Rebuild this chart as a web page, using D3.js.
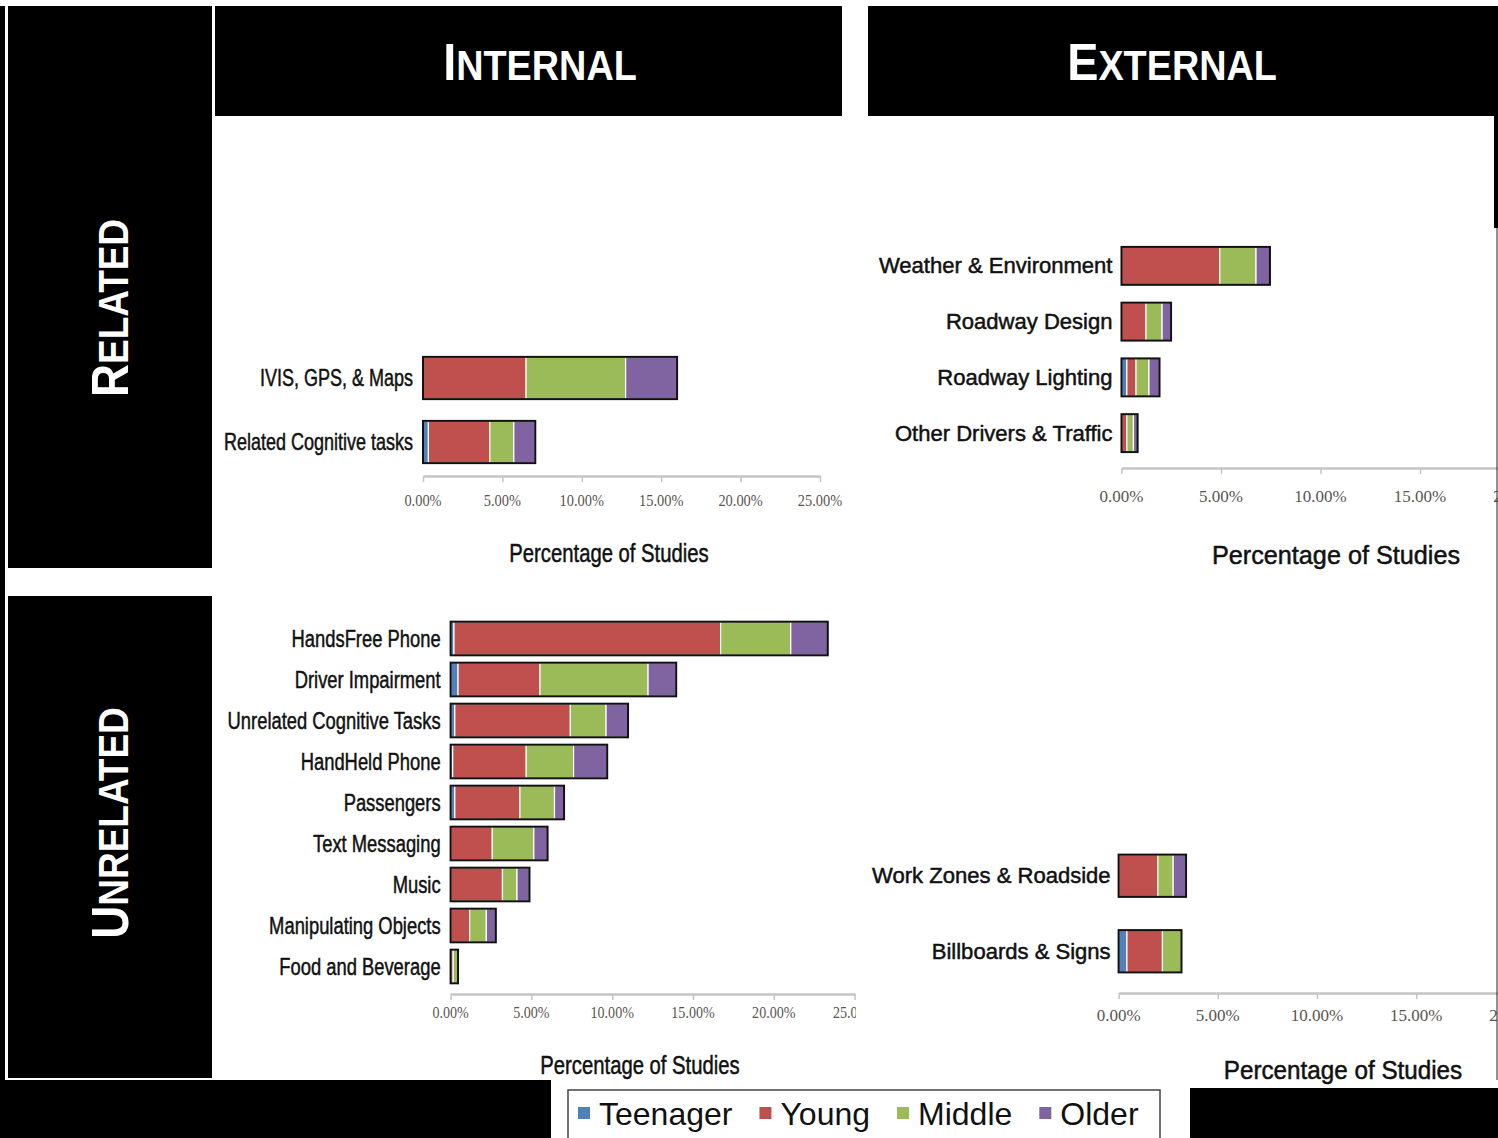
<!DOCTYPE html>
<html>
<head>
<meta charset="utf-8">
<script src="https://cdn.jsdelivr.net/npm/d3@7"></script>
<style>
body{margin:0;background:#fff;overflow:hidden}
svg{display:block}
</style>
</head>
<body>
<div id="chartDiv"></div>
<script>
//---age groups / legend---
var AgeGroups=["Teenager","Young","Middle","Older"]
var AgeColors=["#4F81BD","#C0504D","#9BBB59","#8064A2"]

//---internal + related---
var InternalRelatedCats=["IVIS, GPS, & Maps","Related Cognitive tasks"]
var InternalRelatedTeen=[0,0.34]
var InternalRelatedYoung=[6.49,3.87]
var InternalRelatedMiddle=[6.27,1.51]
var InternalRelatedOlder=[3.24,1.35]

//---external + related---
var ExternalRelatedCats=["Weather & Environment","Roadway Design","Roadway Lighting","Other Drivers & Traffic"]
var ExternalRelatedTeen=[0,0,0.27,0]
var ExternalRelatedYoung=[4.94,1.23,0.46,0.27]
var ExternalRelatedMiddle=[1.82,0.81,0.65,0.33]
var ExternalRelatedOlder=[0.70,0.45,0.53,0.21]

//---internal + unrelated---
var InternalUnrelatedCats=["HandsFree Phone","Driver Impairment","Unrelated Cognitive Tasks","HandHeld Phone","Passengers","Text Messaging","Music","Manipulating Objects","Food and Beverage"]
var InternalUnrelatedTeen=[0.21,0.46,0.26,0.13,0.26,0,0,0,0]
var InternalUnrelatedYoung=[16.5,5.07,7.15,4.55,4.03,2.58,3.21,1.18,0.16]
var InternalUnrelatedMiddle=[4.34,6.69,2.21,2.93,2.14,2.57,0.90,1.03,0.30]
var InternalUnrelatedOlder=[2.29,1.74,1.36,2.08,0.59,0.85,0.77,0.59,0]

//---external + unrelated---
var ExternalUnrelatedCats=["Work Zones & Roadside","Billboards & Signs"]
var ExternalUnrelatedTeen=[0,0.42]
var ExternalUnrelatedYoung=[1.98,1.79]
var ExternalUnrelatedMiddle=[0.77,0.96]
var ExternalUnrelatedOlder=[0.65,0]

//---axis ticks / titles---
var InternalTicks=[0,5,10,15,20,25]
var ExternalTicks=[0,5,10,15,20]
var AxisTitle="Percentage of Studies"
var ColumnTitles=["Internal","External"]
var RowTitles=["Related","Unrelated"]

var W=1498
var H=1138
var SansFont="'Liberation Sans',Arial,sans-serif"
var SerifFont="'Liberation Serif','Times New Roman',serif"
var TickFormat=d3.format(".2%")

var ChartSVG=d3.select("#chartDiv").append("svg")
  .attr("width",W).attr("height",H)
  .attr("viewBox","0 0 "+W+" "+H)

ChartSVG.append("rect")
  .attr("width",W).attr("height",H)
  .attr("fill","white")

var ClipDefs=ChartSVG.append("defs")

//---one stacked bar panel---
function drawPanel(p)
{
  var rows=p.cats.map(function(c,i){
    var r={cat:c}
    AgeGroups.forEach(function(k,j){ r[k]=p.series[j][i] })
    return r
  })
  var layers=d3.stack().keys(AgeGroups)(rows)

  var x=d3.scaleLinear().domain([0,p.max]).range([p.x0,p.x1])
  var y=d3.scaleBand().domain(p.cats)
    .range([p.top,p.bottom])
    .paddingInner(p.pad).paddingOuter(p.pad/2)

  var g=ChartSVG.append("g")
  if(p.clipRight)
  {
    ClipDefs.append("clipPath").attr("id",p.id+"Clip")
      .append("rect").attr("x",0).attr("y",0).attr("width",p.clipRight).attr("height",H)
    g.attr("clip-path","url(#"+p.id+"Clip)")
  }

  //---axis---
  var axis=g.append("g")
    .attr("transform","translate(0,"+p.axisY+")")
    .call(d3.axisBottom(x).tickValues(p.ticks).tickSize(6).tickSizeOuter(0).tickFormat(""))
  axis.select(".domain").attr("stroke","#C4C4C4").attr("stroke-width",2.5)
  axis.selectAll(".tick line").attr("stroke","#C4C4C4").attr("stroke-width",1.5)

  g.selectAll(".tickLabel").data(p.ticks).enter().append("g")
    .attr("class","tickLabel")
    .attr("transform",function(d){return "translate("+x(d)+","+p.tickY+") scale("+p.tickScale+",1)"})
    .append("text")
    .attr("text-anchor","middle")
    .attr("dominant-baseline","central")
    .attr("font-family",SerifFont)
    .attr("font-size",p.tickSize)
    .attr("fill","#5a5550")
    .text(function(d){return TickFormat(d/100)})

  //---segments---
  layers.forEach(function(layer,j){
    g.append("g").selectAll("rect")
      .data(layer.filter(function(d){return d[1]-d[0]>0}))
      .enter().append("rect")
      .attr("x",function(d){return x(d[0])})
      .attr("y",function(d){return y(d.data.cat)})
      .attr("width",function(d){return x(d[1])-x(d[0])})
      .attr("height",y.bandwidth())
      .attr("fill",AgeColors[j])
      .attr("stroke","white")
      .attr("stroke-width",1.2)
  })

  //---black outline round each bar---
  var last=layers[layers.length-1]
  g.append("g").selectAll("rect")
    .data(last)
    .enter().append("rect")
    .attr("x",x(0))
    .attr("y",function(d){return y(d.data.cat)})
    .attr("width",function(d){return x(d[1])-x(0)})
    .attr("height",y.bandwidth())
    .attr("fill","none")
    .attr("stroke","#111")
    .attr("stroke-width",2)

  //---category labels---
  g.selectAll(".catLabel").data(p.cats).enter().append("g")
    .attr("class","catLabel")
    .attr("transform",function(d){return "translate("+(x(0)-p.labelGap)+","+(y(d)+y.bandwidth()/2)+") scale("+p.labelScale+",1)"})
    .append("text")
    .attr("text-anchor","end")
    .attr("dominant-baseline","central")
    .attr("font-family",SansFont)
    .attr("font-size",p.labelSize)
    .attr("fill","#111")
    .attr("stroke","#111")
    .attr("stroke-width",0.5)
    .text(function(d){return d})

  //---axis title---
  g.append("g")
    .attr("transform","translate("+p.titleX+","+p.titleY+") scale("+p.titleScale+",1)")
    .append("text")
    .attr("text-anchor","middle")
    .attr("dominant-baseline","central")
    .attr("font-family",SansFont)
    .attr("font-size",p.titleSize)
    .attr("fill","#111")
    .attr("stroke","#111")
    .attr("stroke-width",0.5)
    .text(AxisTitle)
}

drawPanel({id:"ir",cats:InternalRelatedCats,
  series:[InternalRelatedTeen,InternalRelatedYoung,InternalRelatedMiddle,InternalRelatedOlder],
  max:25,ticks:InternalTicks,x0:423,x1:820,top:346,bottom:474,pad:0.34,
  axisY:476,tickY:500,tickSize:16,tickScale:0.9,
  labelGap:10,labelSize:24,labelScale:0.75,titleX:609,titleY:553,titleSize:26,titleScale:0.78})

drawPanel({id:"er",cats:ExternalRelatedCats,
  series:[ExternalRelatedTeen,ExternalRelatedYoung,ExternalRelatedMiddle,ExternalRelatedOlder],
  max:20,ticks:ExternalTicks,x0:1121.5,x1:1519.5,top:238,bottom:461,pad:0.32,
  axisY:468,tickY:496,tickSize:17,tickScale:1,
  labelGap:9,labelSize:22.5,labelScale:0.98,titleX:1336,titleY:555,titleSize:26,titleScale:0.97})

drawPanel({id:"iu",cats:InternalUnrelatedCats,
  series:[InternalUnrelatedTeen,InternalUnrelatedYoung,InternalUnrelatedMiddle,InternalUnrelatedOlder],
  max:25,ticks:InternalTicks,x0:450.6,x1:854.6,top:618,bottom:987,pad:0.18,clipRight:856,
  axisY:994,tickY:1013,tickSize:16,tickScale:0.88,
  labelGap:10,labelSize:24.5,labelScale:0.75,titleX:640,titleY:1065,titleSize:26,titleScale:0.78})

drawPanel({id:"eu",cats:ExternalUnrelatedCats,
  series:[ExternalUnrelatedTeen,ExternalUnrelatedYoung,ExternalUnrelatedMiddle,ExternalUnrelatedOlder],
  max:20,ticks:ExternalTicks,x0:1118.6,x1:1515.4,top:838,bottom:989,pad:0.44,
  axisY:993,tickY:1015,tickSize:17,tickScale:1,
  labelGap:8,labelSize:22.5,labelScale:0.98,titleX:1343,titleY:1070,titleSize:25,titleScale:0.97})

//---black frame pieces---
var FrameG=ChartSVG.append("g").attr("fill","black")
FrameG.append("rect").attr("x",0).attr("y",6).attr("width",5).attr("height",H-6)
FrameG.append("rect").attr("x",8).attr("y",6).attr("width",204).attr("height",562)
FrameG.append("rect").attr("x",8).attr("y",596).attr("width",204).attr("height",482)
FrameG.append("rect").attr("x",215).attr("y",6).attr("width",627).attr("height",110)
FrameG.append("rect").attr("x",868).attr("y",6).attr("width",626).attr("height",110)
FrameG.append("rect").attr("x",1494).attr("y",6).attr("width",4).attr("height",222)
FrameG.append("rect").attr("x",0).attr("y",1080).attr("width",551).attr("height",H-1080)
FrameG.append("rect").attr("x",1190).attr("y",1088).attr("width",W-1190).attr("height",H-1088)
ChartSVG.append("line")
  .attr("x1",1497).attr("y1",228).attr("x2",1497).attr("y2",1080)
  .attr("stroke","#222").attr("stroke-width",1)

//---small caps titles---
function smallCaps(sel,word,big,small)
{
  var t=sel.append("text")
    .attr("text-anchor","middle")
    .attr("font-family",SansFont)
    .attr("font-weight","bold")
    .attr("fill","white")
  t.append("tspan").attr("font-size",big).text(word.charAt(0).toUpperCase())
  t.append("tspan").attr("font-size",small).text(word.slice(1).toUpperCase())
  return t
}

var ColumnX=[540,1172]
ColumnTitles.forEach(function(c,i){
  var hg=ChartSVG.append("g").attr("transform","translate("+ColumnX[i]+",80) scale(0.9,1)")
  smallCaps(hg,c,52,42)
})

var RowY=[308,823]
RowTitles.forEach(function(r,i){
  var rg=ChartSVG.append("g").attr("transform","translate(128,"+RowY[i]+") rotate(-90) scale(0.88,1)")
  smallCaps(rg,r,52,42)
})

//---legend---
var LegendG=ChartSVG.append("g")
LegendG.append("rect")
  .attr("x",568).attr("y",1090).attr("width",592).attr("height",60)
  .attr("fill","white").attr("stroke","#444").attr("stroke-width",1.5)
var lx=578
AgeGroups.forEach(function(a,i){
  LegendG.append("rect")
    .attr("x",lx).attr("y",1107).attr("width",12).attr("height",12)
    .attr("fill",AgeColors[i])
  var lt=LegendG.append("text")
    .attr("x",lx+21).attr("y",1125)
    .attr("font-family",SansFont)
    .attr("font-size",32)
    .attr("fill","#111")
    .text(a)
  lx=lx+21+lt.node().getComputedTextLength()+27
})
</script>
</body>
</html>
